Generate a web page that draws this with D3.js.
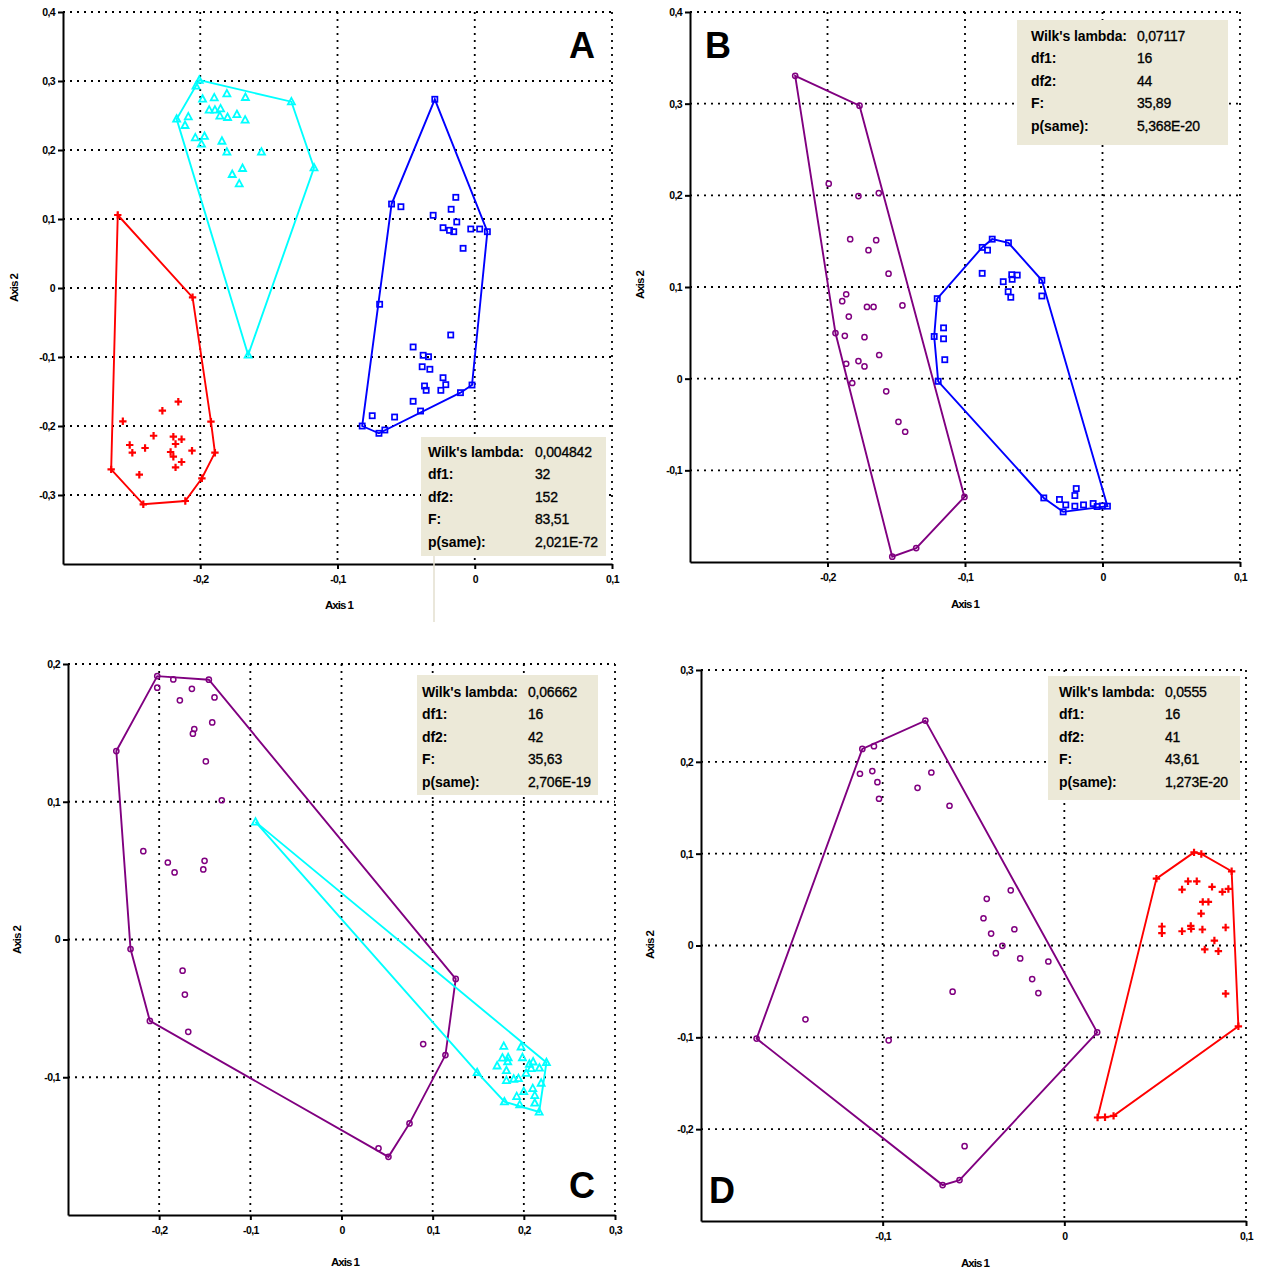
<!DOCTYPE html>
<html>
<head>
<meta charset="utf-8">
<script src="https://cdn.jsdelivr.net/npm/d3@7"></script>
<style>
  body { margin: 0; background: #fff; }
  text { font-family: "Liberation Sans", Arial, sans-serif; }
</style>
</head>
<body>
<div id="chart"></div>
<script>
// ---- data (x = Axis 1, y = Axis 2) ----
// panel A
var aRed = [[-0.2601,0.1058],[-0.2056,-0.0135],[-0.1922,-0.1938],[-0.1893,-0.2387],[-0.1988,-0.2758],
  [-0.2109,-0.3087],[-0.2415,-0.3135],[-0.2649,-0.2628],[-0.2160,-0.1648],[-0.2276,-0.1778],
  [-0.2564,-0.1932],[-0.2340,-0.2141],[-0.2196,-0.2155],[-0.2136,-0.2193],[-0.2514,-0.2275],
  [-0.2180,-0.2261],[-0.2402,-0.2319],[-0.2060,-0.2358],[-0.2495,-0.2387],[-0.2216,-0.2377],
  [-0.2196,-0.2445],[-0.2136,-0.2522],[-0.2180,-0.2599],[-0.2444,-0.2706]];
var aCyan = [[-0.2007,0.3014],[-0.1336,0.2700],[-0.1171,0.1743],[-0.1651,-0.0971],[-0.2172,0.2449],
  [-0.2031,0.2928],[-0.1983,0.2739],[-0.1898,0.2758],[-0.1806,0.2816],[-0.1671,0.2764],
  [-0.1935,0.2580],[-0.1893,0.2580],[-0.1852,0.2599],[-0.1857,0.2493],[-0.1801,0.2474],
  [-0.1733,0.2517],[-0.1673,0.2435],[-0.2087,0.2483],[-0.2111,0.2358],[-0.2036,0.2178],
  [-0.1969,0.2199],[-0.1991,0.2087],[-0.1842,0.2130],[-0.1806,0.1971],[-0.1554,0.1971],
  [-0.1692,0.1735],[-0.1767,0.1648],[-0.1716,0.1512]];
var aBlue = [[-0.0291,0.2735],[-0.0606,0.1217],[-0.0538,0.1178],[-0.0138,0.1314],[-0.0172,0.1141],
  [-0.0303,0.1054],[-0.0131,0.0957],[-0.0231,0.0874],[-0.0184,0.0836],[-0.0153,0.0816],
  [-0.0029,0.0855],[0.0036,0.0855],[0.0092,0.0816],[-0.0085,0.0575],[-0.0693,-0.0236],
  [-0.0820,-0.2000],[-0.0698,-0.2106],[-0.0655,-0.2058],[-0.0747,-0.1851],[-0.0584,-0.1870],
  [-0.0395,-0.1783],[-0.0449,-0.1642],[-0.0104,-0.1517],[-0.0020,-0.1406],[-0.0175,-0.0681],
  [-0.0449,-0.0855],[-0.0376,-0.0975],[-0.0337,-0.0996],[-0.0383,-0.1141],[-0.0327,-0.1178],
  [-0.0231,-0.1300],[-0.0211,-0.1401],[-0.0366,-0.1420],[-0.0354,-0.1483],[-0.0247,-0.1483]];
// panel B
var bPurple = [[-0.2235,0.3304],[-0.1767,0.2978],[-0.1991,0.2127],[-0.1775,0.1992],[-0.1627,0.2025],
  [-0.1835,0.1522],[-0.1646,0.1511],[-0.1702,0.1402],[-0.1556,0.1145],[-0.1864,0.0921],
  [-0.1893,0.0845],[-0.1713,0.0783],[-0.1665,0.0783],[-0.1455,0.0799],[-0.1845,0.0677],
  [-0.1942,0.0497],[-0.1874,0.0467],[-0.1731,0.0453],[-0.1624,0.0258],[-0.1864,0.0163],
  [-0.1775,0.0192],[-0.1731,0.0134],[-0.1820,-0.0047],[-0.1573,-0.0138],[-0.1484,-0.0471],
  [-0.1435,-0.0579],[-0.1004,-0.1290],[-0.1355,-0.1848],[-0.1529,-0.1942]];
var bBlue = [[-0.0802,0.1522],[-0.0684,0.1482],[-0.0875,0.1432],[-0.0836,0.1402],[-0.0441,0.1073],
  [-0.0875,0.1149],[-0.0722,0.1058],[-0.0660,0.1134],[-0.0620,0.1130],[-0.0657,0.1084],
  [-0.0686,0.0949],[-0.0667,0.0888],[-0.0441,0.0902],[-0.1202,0.0873],[-0.1156,0.0554],
  [-0.1156,0.0435],[-0.1147,0.0207],[-0.1224,0.0460],[-0.1195,-0.0029],[-0.0427,-0.1301],
  [-0.0313,-0.1318],[-0.0267,-0.1377],[-0.0286,-0.1453],[-0.0191,-0.1199],[-0.0201,-0.1275],
  [-0.0201,-0.1391],[-0.0138,-0.1377],[-0.0068,-0.1362],[-0.0039,-0.1395],[-0.0002,-0.1388],
  [0.0036,-0.1391]];
// panel C
var cPurple = [[-0.2021,0.1912],[-0.1845,0.1888],[-0.1455,0.1886],[-0.2021,0.1828],[-0.1641,0.1820],
  [-0.1773,0.1736],[-0.1393,0.1757],[-0.1418,0.1576],[-0.1615,0.1528],[-0.1630,0.1494],
  [-0.1488,0.1293],[-0.1313,0.1011],[-0.2470,0.1368],[-0.2174,0.0641],[-0.1905,0.0559],
  [-0.1831,0.0487],[-0.1502,0.0571],[-0.1516,0.0509],[-0.2314,-0.0069],[-0.2102,-0.0591],
  [-0.1743,-0.0226],[-0.1718,-0.0400],[-0.1681,-0.0670],[0.1253,-0.0286],[0.0896,-0.0759],
  [0.1140,-0.0839],[0.0746,-0.1335],[0.0515,-0.1578],[0.0406,-0.1516]];
var cCyan = [[-0.0943,0.0854],[0.2248,-0.0893],[0.2168,-0.1252],[0.1787,-0.1178],[0.1488,-0.0965],
  [0.1955,-0.1199],[0.1780,-0.0774],[0.1970,-0.0779],[0.1765,-0.0859],[0.1828,-0.0857],
  [0.1823,-0.0886],[0.1985,-0.0857],[0.1707,-0.0917],[0.1809,-0.0951],[0.2061,-0.0904],
  [0.2102,-0.0888],[0.2080,-0.0936],[0.2171,-0.0933],[0.2025,-0.0970],[0.1809,-0.1023],
  [0.1889,-0.1013],[0.1941,-0.1009],[0.2190,-0.1042],[0.1999,-0.1103],[0.2098,-0.1081],
  [0.2120,-0.1132],[0.1922,-0.1139],[0.2120,-0.1187]];
// panel D
var dPurple = [[-0.0765,0.2449],[-0.1112,0.2141],[-0.1048,0.2171],[-0.1125,0.1870],[-0.1057,0.1899],
  [-0.1029,0.1779],[-0.1020,0.1598],[-0.0808,0.1717],[-0.0732,0.1884],[-0.0632,0.1522],
  [-0.0295,0.0601],[-0.0427,0.0508],[-0.0445,0.0297],[-0.0275,0.0177],[-0.0403,0.0130],
  [-0.0341,-0.0003],[-0.0377,-0.0084],[-0.0243,-0.0141],[-0.0088,-0.0174],[-0.0177,-0.0366],
  [-0.0143,-0.0518],[-0.0615,-0.0503],[-0.1425,-0.0804],[-0.1694,-0.1014],[-0.0967,-0.1033],
  [0.0181,-0.0946],[-0.0670,-0.2609],[-0.0577,-0.2554],[-0.0549,-0.2185]];
var dRed = [[0.0714,0.1014],[0.0754,0.0997],[0.0921,0.0808],[0.0507,0.0728],[0.0681,0.0699],
  [0.0729,0.0699],[0.0648,0.0609],[0.0813,0.0638],[0.0870,0.0584],[0.0903,0.0616],
  [0.0762,0.0475],[0.0793,0.0475],[0.0753,0.0348],[0.0537,0.0207],[0.0537,0.0134],
  [0.0648,0.0155],[0.0696,0.0214],[0.0698,0.0182],[0.0760,0.0174],[0.0888,0.0196],
  [0.0826,0.0054],[0.0773,-0.0043],[0.0848,-0.0062],[0.0888,-0.0525],[0.0958,-0.0880],
  [0.0183,-0.1873],[0.0224,-0.1870],[0.0271,-0.1855]];

// stats boxes
var statLabels = ["Wilk's lambda:", "df1:", "df2:", "F:", "p(same):"];
var statsA = ["0,004842", "32", "152", "83,51", "2,021E-72"];
var statsB = ["0,07117", "16", "44", "35,89", "5,368E-20"];
var statsC = ["0,06662", "16", "42", "35,63", "2,706E-19"];
var statsD = ["0,0555", "16", "41", "43,61", "1,273E-20"];

// tick values
var xTicksA = [-0.2, -0.1, 0, 0.1], yTicksA = [0.4, 0.3, 0.2, 0.1, 0, -0.1, -0.2, -0.3];
var xTicksB = [-0.2, -0.1, 0, 0.1], yTicksB = [0.4, 0.3, 0.2, 0.1, 0, -0.1];
var xTicksC = [-0.2, -0.1, 0, 0.1, 0.2, 0.3], yTicksC = [0.2, 0.1, 0, -0.1];
var xTicksD = [-0.1, 0, 0.1], yTicksD = [0.3, 0.2, 0.1, 0, -0.1, -0.2];

var colors = { red: "#ff0000", cyan: "#00ffff", blue: "#0000ff", purple: "#800080" };

var svg = d3.select("#chart").append("svg")
    .attr("width", 1266)
    .attr("height", 1270);

var fmt = function(d) { return d === 0 ? "0" : String(d).replace(".", ","); };

function drawPanel(p) {
  var x = d3.scaleLinear().domain(p.xDom).range([p.left, p.right]);
  var y = d3.scaleLinear().domain(p.yDom).range([p.bottom, p.top]);
  var g = svg.append("g");

  // dotted grid
  g.selectAll(".gx").data(p.xTicks).enter().append("line")
    .attr("x1", function(d) { return x(d); }).attr("x2", function(d) { return x(d); })
    .attr("y1", p.top).attr("y2", p.bottom)
    .attr("stroke", "#000").attr("stroke-width", 1.8).attr("stroke-dasharray", "2,5");
  g.selectAll(".gy").data(p.yTicks).enter().append("line")
    .attr("y1", function(d) { return y(d); }).attr("y2", function(d) { return y(d); })
    .attr("x1", p.left).attr("x2", p.right)
    .attr("stroke", "#000").attr("stroke-width", 1.8).attr("stroke-dasharray", "2,5");

  // axes
  var ax = g.append("g").attr("transform", "translate(0," + p.bottom + ")")
    .call(d3.axisBottom(x).tickValues(p.xTicks).tickFormat(fmt).tickSize(5).tickSizeOuter(0).tickPadding(7));
  var ay = g.append("g").attr("transform", "translate(" + p.left + ",0)")
    .call(d3.axisLeft(y).tickValues(p.yTicks).tickFormat(fmt).tickSize(5).tickSizeOuter(0).tickPadding(3));
  [ax, ay].forEach(function(a) {
    a.select(".domain").attr("stroke-width", 2);
    a.selectAll(".tick line").attr("stroke-width", 2);
    a.selectAll("text").attr("font-size", 10.5).attr("font-weight", "bold")
      .attr("letter-spacing", "-0.6").attr("fill", "#000");
  });

  g.append("text").attr("x", p.ax1[0]).attr("y", p.ax1[1])
    .attr("text-anchor", "middle").attr("font-size", 11.5).attr("font-weight", "bold")
    .attr("letter-spacing", "-1").text("Axis 1");
  g.append("text").attr("transform", "translate(" + p.ax2[0] + "," + p.ax2[1] + ") rotate(-90)")
    .attr("text-anchor", "middle").attr("font-size", 11.5).attr("font-weight", "bold")
    .attr("letter-spacing", "-1").text("Axis 2");

  // groups: hull + markers
  p.groups.forEach(function(grp) {
    var px = grp.pts.map(function(d) { return [x(d[0]), y(d[1])]; });
    var hull = d3.polygonHull(px);
    g.append("path")
      .attr("d", "M" + hull.join("L") + "Z")
      .attr("fill", "none").attr("stroke", colors[grp.color]).attr("stroke-width", 1.9);
    var c = colors[grp.color];
    var m = g.selectAll(null).data(px).enter().append("g")
      .attr("transform", function(d) { return "translate(" + d[0] + "," + d[1] + ")"; });
    if (grp.mark === "plus") {
      m.append("path").attr("d", "M-3.7,0H3.7M0,-3.7V3.7").attr("stroke", c).attr("stroke-width", 2.2);
    } else if (grp.mark === "tri") {
      m.append("path").attr("d", "M0,-3.8L3.5,2.7L-3.5,2.7Z").attr("fill", "none").attr("stroke", c).attr("stroke-width", 1.8);
    } else if (grp.mark === "square") {
      m.append("rect").attr("x", -2.6).attr("y", -2.6).attr("width", 5.2).attr("height", 5.2)
        .attr("fill", "none").attr("stroke", c).attr("stroke-width", 1.7);
    } else {
      m.append("circle").attr("r", 2.6).attr("fill", "none").attr("stroke", c).attr("stroke-width", 1.5);
    }
  });

  // stats box
  var b = p.box;
  if (b.tail) {
    g.append("line").attr("x1", b.tail).attr("x2", b.tail).attr("y1", b.y + b.h).attr("y2", b.y + b.h + 66)
      .attr("stroke", "#e3dfcf").attr("stroke-width", 1.5);
  }
  g.append("rect").attr("x", b.x).attr("y", b.y).attr("width", b.w).attr("height", b.h).attr("fill", "#ece9d8");
  statLabels.forEach(function(l, i) {
    var ty = b.y + b.r0 + i * 22.4;
    g.append("text").attr("x", b.x + b.lx).attr("y", ty).attr("dy", "0.35em")
      .attr("font-size", 14).attr("font-weight", "bold").attr("letter-spacing", "-0.1").text(l);
    g.append("text").attr("x", b.x + b.vx).attr("y", ty).attr("dy", "0.35em")
      .attr("font-size", 14).attr("letter-spacing", "-0.2").attr("stroke", "#000").attr("stroke-width", 0.3)
      .text(p.stats[i]);
  });

  // panel letter
  g.append("text").attr("x", p.letter[0]).attr("y", p.letter[1]).attr("dy", "0.36em")
    .attr("text-anchor", "middle").attr("font-size", 36).attr("font-weight", "bold").text(p.id);
}

drawPanel({ id: "A", xDom: [-0.3, 0.1], yDom: [-0.4, 0.4], left: 63, right: 612, top: 12, bottom: 564,
  xTicks: xTicksA, yTicks: yTicksA, ax1: [339, 609], ax2: [18, 288], letter: [582, 45], stats: statsA,
  box: { x: 421, y: 437, w: 185, h: 119, lx: 7, vx: 114, r0: 15, tail: 434 },
  groups: [{ pts: aRed, color: "red", mark: "plus" }, { pts: aCyan, color: "cyan", mark: "tri" },
           { pts: aBlue, color: "blue", mark: "square" }] });

drawPanel({ id: "B", xDom: [-0.3, 0.1], yDom: [-0.2, 0.4], left: 690, right: 1240, top: 12, bottom: 562,
  xTicks: xTicksB, yTicks: yTicksB, ax1: [965, 608], ax2: [644, 285], letter: [718, 45], stats: statsB,
  box: { x: 1017, y: 20, w: 211, h: 125, lx: 14, vx: 120, r0: 16 },
  groups: [{ pts: bPurple, color: "purple", mark: "circle" }, { pts: bBlue, color: "blue", mark: "square" }] });

drawPanel({ id: "C", xDom: [-0.3, 0.3], yDom: [-0.2, 0.2], left: 68, right: 615, top: 664, bottom: 1215,
  xTicks: xTicksC, yTicks: yTicksC, ax1: [345, 1266], ax2: [21, 940], letter: [582, 1185], stats: statsC,
  box: { x: 417, y: 675, w: 181, h: 120, lx: 5, vx: 111, r0: 17 },
  groups: [{ pts: cPurple, color: "purple", mark: "circle" }, { pts: cCyan, color: "cyan", mark: "tri" }] });

drawPanel({ id: "D", xDom: [-0.2, 0.1], yDom: [-0.3, 0.3], left: 701, right: 1246, top: 670, bottom: 1221,
  xTicks: xTicksD, yTicks: yTicksD, ax1: [975, 1267], ax2: [654, 945], letter: [722, 1190], stats: statsD,
  box: { x: 1048, y: 676, w: 192, h: 124, lx: 11, vx: 117, r0: 16 },
  groups: [{ pts: dPurple, color: "purple", mark: "circle" }, { pts: dRed, color: "red", mark: "plus" }] });
</script>
</body>
</html>
